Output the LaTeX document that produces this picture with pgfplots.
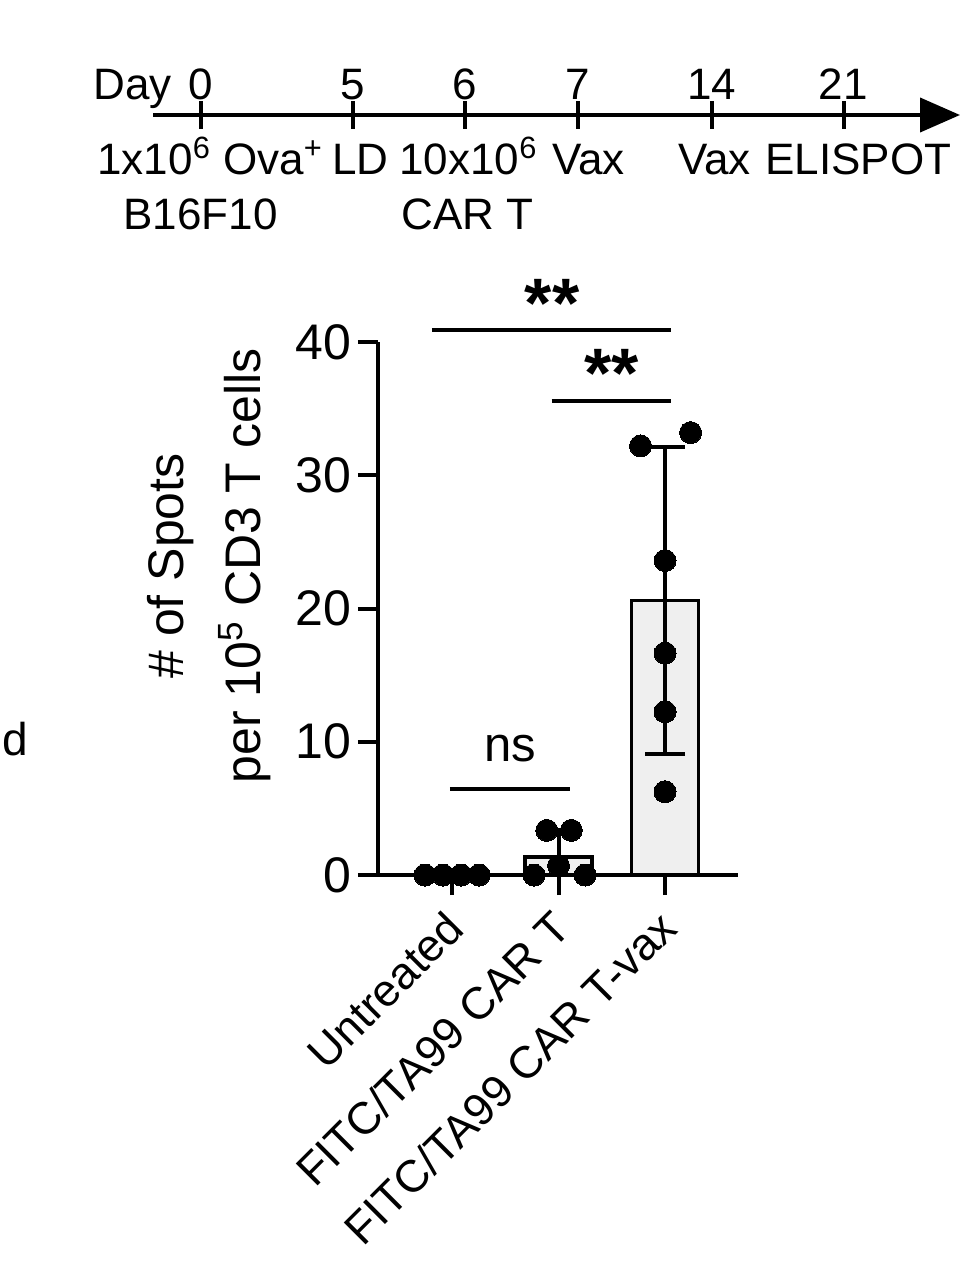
\documentclass[border=0pt]{standalone}
\usepackage{fontspec}
\setmainfont{Liberation Sans}
\usepackage{pgfplots}
\pgfplotsset{compat=1.18}
\usetikzlibrary{arrows.meta}
\definecolor{barfill}{HTML}{EFEFEF}
\tikzset{tl/.style={inner sep=0pt, font=\fontsize{22}{26}\selectfont}}
\begin{document}
\begin{tikzpicture}
\path[use as bounding box] (0,0) rectangle (484pt,-634pt);
% stray text at left edge
\node[anchor=base east, inner sep=0, font=\fontsize{23}{27}\selectfont] at (14pt,-377.5pt) {nd};

% ---------------- timeline ----------------
\begin{axis}[
  at={(76.5pt,-57.5pt)}, anchor=north west,
  scale only axis, width=403.5pt, height=65pt,
  xmin=153, xmax=960, ymin=-130, ymax=0,
  axis x line=top, axis y line=none,
  x axis line style={-{Triangle[length=20pt,width=17pt]}, line width=2pt},
  xtick={201,352.7,465,578,711.7,844}, xticklabels={},
  tick align=center, major tick length=13.5pt,
  tick style={line width=2pt, black},
  clip=false,
]
\node[tl, anchor=base east] at (axis cs:172,15) {Day};
\node[tl, anchor=base] at (axis cs:201,15) {0};
\node[tl, anchor=base] at (axis cs:352.7,15) {5};
\node[tl, anchor=base] at (axis cs:465,15) {6};
\node[tl, anchor=base] at (axis cs:578,15) {7};
\node[tl, anchor=base] at (axis cs:711.7,15) {14};
\node[tl, anchor=base] at (axis cs:843,15) {21};
\node[tl, anchor=base west] at (axis cs:97,-59) {1x10\textsuperscript{6} Ova\textsuperscript{+}};
\node[tl, anchor=base west] at (axis cs:332,-59) {LD};
\node[tl, anchor=base west] at (axis cs:399,-59) {10x10\textsuperscript{6}};
\node[tl, anchor=base west] at (axis cs:552,-59) {Vax};
\node[tl, anchor=base west] at (axis cs:678,-59) {Vax};
\node[tl, anchor=base west] at (axis cs:765,-59) {ELISPOT};
\node[tl, anchor=base west] at (axis cs:123,-114) {B16F10};
\node[tl, anchor=base west] at (axis cs:401,-114) {CAR T};
\end{axis}

% ---------------- bar chart ----------------
\begin{axis}[
  at={(189pt,-437.5pt)}, anchor=south west,
  scale only axis, width=180pt, height=266.5pt,
  xmin=-0.695, xmax=2.685, ymin=0, ymax=40,
  axis lines=left, axis line style={-, line width=2pt},
  clip=false,
  xtick={0,1,2},
  xticklabels={Untreated, FITC/TA99 CAR T, FITC/TA99 CAR T-vax},
  ytick={0,10,20,30,40},
  tick align=outside, major tick length=10pt,
  tick style={line width=2pt, black},
  /pgf/number format/assume math mode=true,
  x tick label style={xshift=4pt, yshift=-10pt, rotate=45, anchor=east, font=\fontsize{22.5}{27}\selectfont},
  y tick label style={font=\fontsize{25}{29}\selectfont},
  ylabel={\# of Spots\\per 10\textsuperscript{5} CD3 T cells},
  ylabel style={align=center, font=\fontsize{25}{38.5}\selectfont,
    at={(axis description cs:-0.469,0.58)}, anchor=center},
]
% bars (means)
\addplot[ybar, bar width=0.63, fill=barfill, draw=black, line width=1.75pt]
  coordinates {(0,0) (1,1.35) (2,20.6)};
% error bars (SD)
\addplot[draw=none, mark=none, forget plot,
  error bars/.cd, y dir=both, y explicit,
  error bar style={draw=black, line width=2pt},
  error mark options={rotate=90, mark size=10pt, line width=2pt, draw=black}]
  coordinates {(2,20.6) +- (0,11.5)};
\addplot[draw=none, mark=none, forget plot,
  error bars/.cd, y dir=plus, y explicit,
  error bar style={draw=black, line width=2pt},
  error mark options={rotate=90, mark size=10pt, line width=2pt, draw=black}]
  coordinates {(1,1.35) +- (0,2.0)};
% individual points
\addplot[only marks, mark=*, mark size=5.5pt, mark options={fill=black, draw=black, line width=0pt}]
  coordinates {(-0.254,0) (-0.085,0) (0.085,0) (0.254,0)};
\addplot[only marks, mark=*, mark size=5.5pt, mark options={fill=black, draw=black, line width=0pt}]
  coordinates {(0.77,0) (1.0,0.7) (1.25,0) (0.89,3.35) (1.12,3.35)};
\addplot[only marks, mark=*, mark size=5.5pt, mark options={fill=black, draw=black, line width=0pt}]
  coordinates {(1.77,32.2) (2.24,33.2) (2.0,23.6) (2.0,16.65) (2.0,12.25) (2.0,6.25)};
% significance brackets
\addplot[black, line width=2pt] coordinates {(-0.19,40.9) (2.056,40.9)};
\addplot[black, line width=2pt] coordinates {(0.934,35.6) (2.056,35.6)};
\addplot[black, line width=2pt] coordinates {(-0.02,6.45) (1.108,6.45)};
\node[anchor=base, inner sep=0, font=\fontsize{35}{40}\selectfont\bfseries] at (axis cs:0.939,41.1) {**};
\node[anchor=base, inner sep=0, font=\fontsize{35}{40}\selectfont\bfseries] at (axis cs:1.502,35.8) {**};
\node[anchor=base, inner sep=0, font=\fontsize{24.5}{29}\selectfont] at (axis cs:0.545,8.5) {ns};
\end{axis}
\end{tikzpicture}
\end{document}
